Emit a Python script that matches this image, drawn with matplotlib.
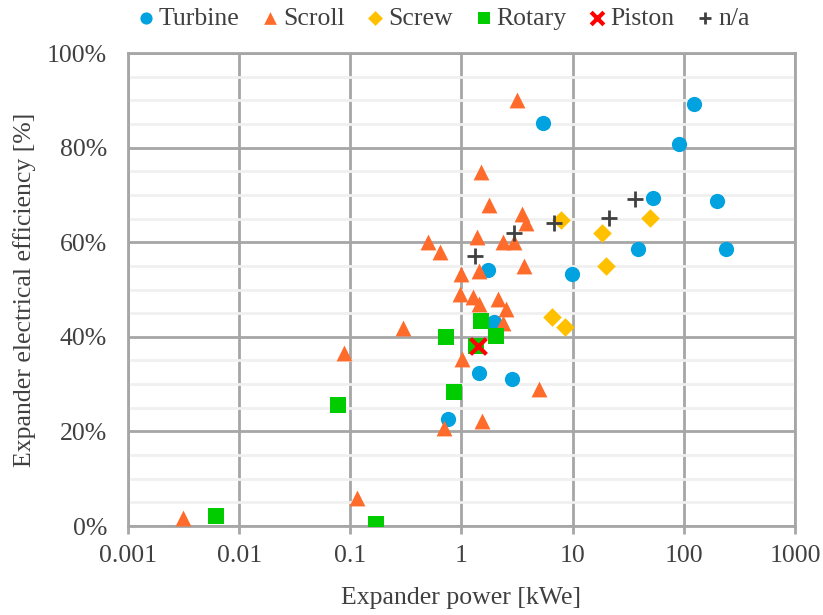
import numpy as np
import matplotlib.pyplot as plt
from matplotlib.ticker import FixedLocator, FuncFormatter, MultipleLocator

plt.rcParams['font.family'] = ['Liberation Serif', 'DejaVu Serif']

# data (power in kWe, efficiency in %)
turbine_p = [5.4, 123, 90, 53, 199, 239, 38.7, 9.9, 1.73, 1.96, 1.44, 2.85, 0.755]
turbine_e = [85.2, 89.2, 80.8, 69.3, 68.7, 58.6, 58.6, 53.3, 54.1, 43.1, 32.3, 31.1, 22.6]

scroll_p = [3.16, 1.50, 1.77, 3.5, 3.8, 1.38, 0.50, 0.64, 2.36, 2.97, 0.99, 1.44,
            3.65, 0.97, 1.27, 1.44, 2.13, 2.51, 2.36, 0.298, 1.01, 4.98, 1.53, 0.70,
            0.0877, 0.115, 0.00313]
scroll_e = [90.1, 74.8, 67.9, 66.0, 64.0, 61.1, 60.0, 57.9, 60.0, 60.0, 53.3, 53.9,
            55.0, 49.0, 48.4, 46.9, 48.0, 45.9, 42.9, 41.9, 35.3, 29.0, 22.2, 20.7,
            36.6, 5.9, 1.7]

screw_p = [7.85, 18.4, 49.6, 20.0, 6.5, 8.5]
screw_e = [64.7, 61.9, 65.1, 55.0, 44.2, 42.1]

rotary_p = [1.50, 0.726, 2.04, 1.35, 0.855, 0.0774, 0.0062, 0.170]
rotary_e = [43.3, 40.0, 40.2, 38.1, 28.3, 25.6, 2.1, 0.4]

piston_p = [1.41]
piston_e = [38.1]

na_p = [6.8, 21.2, 36.4, 2.97, 1.32]
na_e = [64.1, 65.1, 69.1, 61.9, 57.1]

txt = '#404040'
fig = plt.figure(figsize=(8.23, 6.15), dpi=100)
ax = fig.add_axes([0.1555, 0.1447, 0.8105, 0.7691])

ax.scatter(turbine_p, turbine_e, s=120, marker='o', color='#00A2E0', label='Turbine', zorder=3, linewidths=0)
ax.scatter(scroll_p, scroll_e, s=130, marker='^', color='#FF6B2B', label='Scroll', zorder=3, linewidths=0)
ax.scatter(screw_p, screw_e, s=90, marker='D', color='#FFC000', label='Screw', zorder=3, linewidths=0)
ax.scatter(rotary_p, rotary_e, s=130, marker='s', color='#00CC00', label='Rotary', zorder=3, linewidths=0)
ax.scatter(piston_p, piston_e, s=130, marker='x', color='#FF0000', label='Piston', zorder=4, linewidths=3)
ax.scatter(na_p, na_e, s=130, marker='+', color=txt, label='n/a', zorder=4, linewidths=2)

ax.set_xscale('log')
ax.set_xlim(0.001, 1000)
ax.set_ylim(0, 100)
ax.xaxis.set_major_locator(FixedLocator([0.001, 0.01, 0.1, 1, 10, 100, 1000]))
ax.xaxis.set_minor_locator(FixedLocator([]))
ax.xaxis.set_major_formatter(FuncFormatter(lambda v, p: f'{v:g}'))
ax.yaxis.set_major_locator(MultipleLocator(20))
ax.yaxis.set_minor_locator(MultipleLocator(5))
ax.yaxis.set_major_formatter(FuncFormatter(lambda v, p: f'{v:.0f}%'))

ax.grid(which='minor', axis='y', color='#F0F0F0', lw=2, zorder=0)
ax.grid(which='major', color='#A6A6A6', lw=2, zorder=1)
ax.set_axisbelow(True)
for s in ax.spines.values():
    s.set_color('#A6A6A6')
    s.set_linewidth(2)
ax.tick_params(axis='x', which='major', length=6, width=2, color='#A6A6A6',
               labelsize=18.5, labelcolor=txt, pad=8)
ax.tick_params(axis='y', which='both', length=0, labelsize=18.5, labelcolor=txt, pad=15)

ax.set_xlabel('Expander power [kWe]', fontsize=18.5, color=txt, labelpad=14)
ax.set_ylabel('Expander electrical efficiency [%]', fontsize=18.5, color=txt, labelpad=8)

fig.legend(loc='center', bbox_to_anchor=(0.54, 0.97), ncol=6, frameon=False,
           fontsize=18.5, labelcolor=txt, handlelength=0.5, handletextpad=0.25,
           columnspacing=0.95, scatterpoints=1, markerscale=0.8, borderaxespad=0)

fig.savefig('out.png', dpi=100)
